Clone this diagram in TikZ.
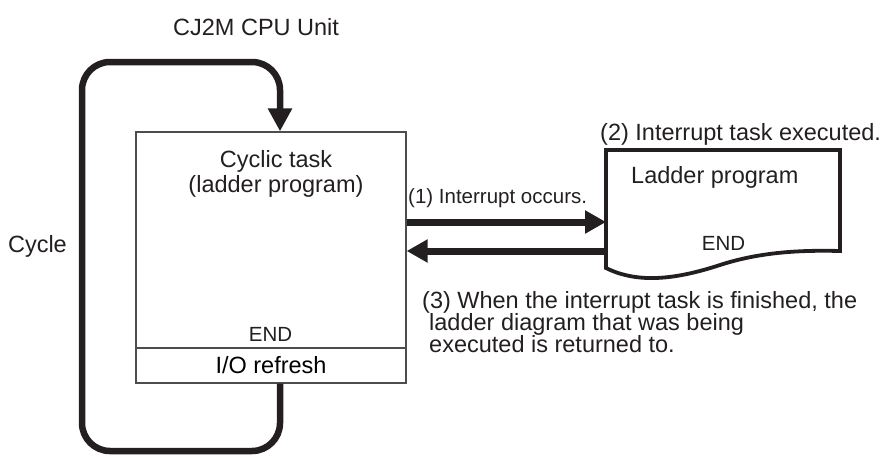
\documentclass[tikz,border=0pt]{standalone}
\usepackage{fontspec}
\setmainfont{Liberation Sans}
\usepackage{xcolor}
\definecolor{cInk}  {HTML}{231F20}
\definecolor{cFrame}{HTML}{4D4D4F}
\usetikzlibrary{arrows.meta, positioning, calc}
\tikzset{
  lbl/.style    = {inner sep=0pt, font=\fontsize{23.5}{25}\selectfont, text=cInk},
  sml/.style    = {inner sep=0pt, font=\fontsize{20.5}{23}\selectfont, text=cInk},
  blk/.style    = {rectangle, draw=cFrame, line width=1.3pt, inner sep=0pt,
                   minimum width=270pt},
  bigarr/.style = {-{Triangle[width=22pt,length=21pt]}, line width=7pt, draw=cInk},
  cyclearr/.style = {-{Triangle[width=23pt,length=23pt]}, line width=6.5pt,
                   draw=cInk, rounded corners=28pt},
  ladframe/.style = {draw=cInk, line width=3.8pt, line join=miter},
}

\begin{document}
\begin{tikzpicture}[x=1pt, y=-1pt]
  \useasboundingbox (0,0) rectangle (885,456);

  %% CPU unit: cyclic task with I/O refresh
  \node[blk, minimum height=251pt] (cyclic) at (271,257.5) {};
  \node[blk, minimum height=35pt, anchor=south] (io) at (cyclic.south)
        {\fontsize{23.5}{25}\selectfont I/O refresh};
  \node[lbl, align=center, anchor=north] (task) at (276,150.5)
        {Cyclic task\\(ladder program)};
  \node[sml, anchor=base] (endA) at (270.5,341) {END};
  \node[lbl, anchor=base west] (cpu) at (173,35) {CJ2M CPU Unit};

  %% Cycle loop
  \coordinate (turnR) at (280,62);
  \coordinate (turnL) at (82,451);
  \draw[cyclearr] (io.south -| turnR) |- (turnL) |- (turnR)
        -- (cyclic.north -| turnR);
  \node[lbl, anchor=base east] (cyc) at (67,252) {Cycle};

  %% Interrupt task (ladder program)
  \coordinate (ladNW) at (606,150);
  \coordinate (ladSE) at (840,251);
  \draw[ladframe] (606,268) -- (ladNW) -| (ladSE)
        .. controls (800,250) and (760,252) .. (720,265)
        .. controls (680,278) and (640,285) .. cycle;
  \node[lbl, anchor=base west] (lad) at (631,183) {Ladder program};
  \node[sml, anchor=base] (endB) at (723.5,250) {END};
  \node[lbl, anchor=base west] (s2) at (600,140) {(2) Interrupt task executed.};

  %% Arrows
  \coordinate (ladIn)  at (606,222);
  \coordinate (ladOut) at (606,251);
  \draw[bigarr] (cyclic.east |- ladIn) -- (ladIn);
  \draw[bigarr] (ladOut) -- (cyclic.east |- ladOut);
  \node[sml, anchor=base west] (s1) at (408,203) {(1) Interrupt occurs.};

  %% Return note
  \node[lbl, anchor=base west] (s3a) at (422,308)
        {(3) When the interrupt task is finished, the};
  \node[lbl, anchor=base west] (s3b) at (429,330)
        {ladder diagram that was being};
  \node[lbl, anchor=base west] (s3c) at (429,352)
        {executed is returned to.};

\end{tikzpicture}
\end{document}
